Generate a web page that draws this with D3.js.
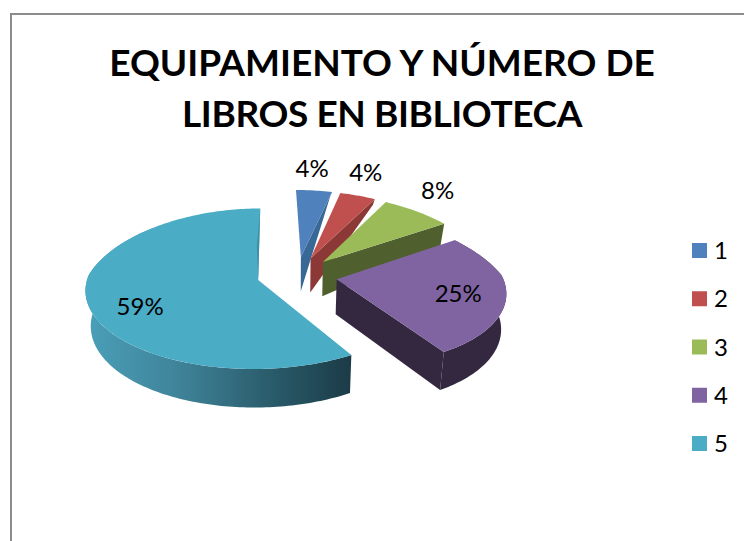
<!DOCTYPE html>
<html><head><meta charset="utf-8">
<script src="https://cdn.jsdelivr.net/npm/d3@7"></script>
<style>html,body{margin:0;padding:0;background:#fff}svg{display:block}text{font-family:Lato,sans-serif;fill:#000}</style>
</head><body><div id="c"></div>
<script>
const titleLines = ["EQUIPAMIENTO Y NÚMERO DE", "LIBROS EN BIBLIOTECA"];
const titleSpacing = [0, -0.4];
const categories = ["1", "2", "3", "4", "5"];
const values = [4.2, 4.1, 7.7, 25.4, 58.6];
const topColors = ["#4f81bd", "#c0504d", "#9bbb59", "#8064a2", "#4bacc6"];
const wallColors = ["#386896", "#8c3836", "#4f602e", "#33283f", "url(#tealWall)"];
const labelNudgeX = [-2, 8, 21, -48, 53];
const labelNudgeY = [-22, -23, -21, -4, 5];
const sliceRadius = [1, 1, 1, 0.975, 1];
const sliceShear = [0, 0, 0, 0.12, 0];

const W = 744, H = 541;
const cx = 297, cy = 275, radius = 170, explode = 40, tilt = 0.46, persp = 0.00064, perspBackX = 0.00115, vanishX = 270;
const depth = d3.scaleLinear().domain([-208, -119, -40, 154]).range([0, 22, 34, 38]);

const svg = d3.select("#c").append("svg").attr("width", W).attr("height", H);
const g = svg.append("linearGradient").attr("id", "tealWall").attr("gradientUnits", "userSpaceOnUse")
  .attr("x1", 87).attr("x2", 349).attr("y1", 0).attr("y2", 0);
[[0, "#4a9fb8"], [0.35, "#3f8399"], [0.7, "#2a5c6b"], [1, "#1c3c48"]].forEach(s =>
  g.append("stop").attr("offset", s[0]).attr("stop-color", s[1]));

svg.append("path").attr("d", `M11,541V14H744`).attr("fill", "none").attr("stroke", "#8c8c8c").attr("stroke-width", 2);

svg.selectAll("text.title").data(titleLines).join("text").attr("class", "title")
  .attr("x", 382).attr("y", (d, i) => 76 + i * 51).attr("text-anchor", "middle")
  .attr("font-size", 37).attr("font-weight", 700).attr("letter-spacing", (d, i) => titleSpacing[i]).text(d => d);

const arcs = d3.pie().sort(null).value(d => d)(values);

function world(a, mid, r, k) {
  const rr = r * radius * sliceRadius[k];
  return [explode * Math.sin(mid) + rr * Math.sin(a), -explode * Math.cos(mid) - rr * Math.cos(a)];
}
function topPt(a, mid, r, k) {
  const [X, Y] = world(a, mid, r, k), den = 1 - persp * Y;
  const sx = Y < 0 ? vanishX + (X + cx - vanishX) / (1 - perspBackX * Y) : cx + X / den;
  const sy = cy + Y * tilt / den;
  return [sx + sliceShear[k] * (sy - cy), sy];
}
function botPt(a, mid, r, k) {
  const [, Y] = world(a, mid, r, k), p = topPt(a, mid, r, k);
  return [cx + (p[0] - cx) * 0.975, p[1] + depth(Y)];
}
function arcPts(fn, a0, a1, mid, k) {
  const n = Math.max(2, Math.ceil((a1 - a0) / 0.02));
  return d3.range(n + 1).map(i => fn(a0 + (a1 - a0) * i / n, mid, 1, k));
}
const line = d3.line();
const closed = pts => line(pts) + "Z";

const drawOrder = [0, 1, 2, 4, 3];
drawOrder.forEach(i => {
  const d = arcs[i], a0 = d.startAngle, a1 = d.endAngle, mid = (a0 + a1) / 2, color = topColors[i], wall = wallColors[i];
  const piece = svg.append("g");
  if (i < 4) {
    piece.append("path").attr("fill", wall).attr("d", closed([
      topPt(a1, mid, 0, i), topPt(a1, mid, 1, i), botPt(a1, mid, 1, i), botPt(a1, mid, 0, i)]));
  }
  if (i >= 3) {
    const s0 = a0, s1 = Math.min(a1, Math.PI * 1.75);
    piece.append("path").attr("fill", wall).attr("d", closed(
      arcPts(topPt, s0, s1, mid, i).concat(arcPts(botPt, s0, s1, mid, i).reverse())));
  }
  piece.append("path").attr("fill", color).attr("d", closed(
    [topPt(a0, mid, 0, i)].concat(arcPts(topPt, a0, a1, mid, i))));
  if (i === 4) {
    const apex = topPt(a1, mid, 0, i), rim = topPt(a1, mid, 1, i), m = topPt(a1, mid, 0.45, i);
    piece.append("path").attr("fill", "#3f8fa6").attr("d", closed([rim, apex, [m[0] - 2.5, m[1]]]));
  }
});

const midOf = d => (d.startAngle + d.endAngle) / 2;
svg.selectAll("text.pct").data(arcs).join("text").attr("class", "pct")
  .attr("text-anchor", "middle").attr("dy", "0.35em").attr("font-size", 24)
  .attr("x", (d, i) => topPt(midOf(d), midOf(d), 1, i)[0] + labelNudgeX[i])
  .attr("y", (d, i) => topPt(midOf(d), midOf(d), 1, i)[1] + labelNudgeY[i])
  .text(d => d3.format(".0%")(d.value / d3.sum(values)));

const legendY = d3.scalePoint().domain(categories).range([250.5, 443.5]);
const legend = svg.selectAll("g.lg").data(categories).join("g").attr("class", "lg")
  .attr("transform", d => `translate(692,${legendY(d)})`);
legend.append("rect").attr("y", -7.5).attr("width", 15).attr("height", 15).attr("fill", (d, i) => topColors[i]);
legend.append("text").attr("x", 22).attr("dy", "0.36em").attr("font-size", 24).text(d => d);
</script></body></html>
